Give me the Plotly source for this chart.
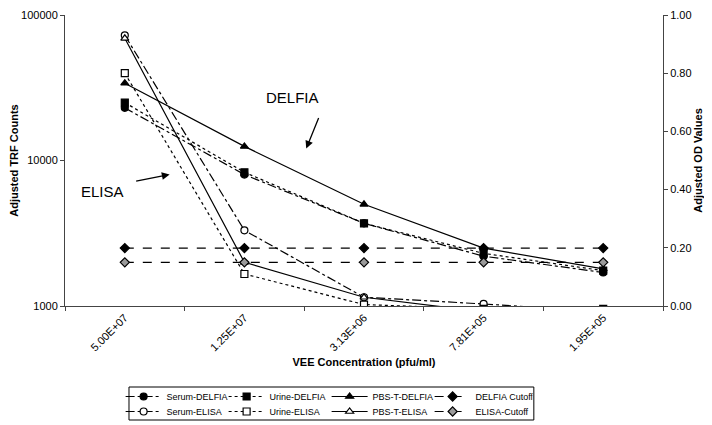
import plotly.graph_objects as go

categories = ["5.00E+07", "1.25E+07", "3.13E+06", "7.81E+05", "1.95E+05"]

serum_delfia = [23000, 8000, 3700, 2200, 1700]
urine_delfia = [25000, 8300, 3700, 2300, 1750]
pbst_delfia = [34000, 12500, 5000, 2500, 1800]
delfia_cutoff = [2500, 2500, 2500, 2500, 2500]

serum_elisa = [0.93, 0.26, 0.03, 0.007, -0.02]
urine_elisa = [0.80, 0.11, 0.005, -0.01, -0.01]
pbst_elisa = [0.92, 0.15, 0.03, -0.02, -0.03]
elisa_cutoff = [0.15, 0.15, 0.15, 0.15, 0.15]

FONT = "Liberation Sans, Arial, sans-serif"
BLACK = "#000000"

fig = go.Figure()

def add(name, y, dash, symbol, fill, yaxis, legend):
    fig.add_trace(go.Scatter(
        x=categories, y=y, name=name, mode="lines+markers",
        yaxis=yaxis, legend=legend,
        line=dict(color=BLACK, width=1.2, dash=dash),
        marker=dict(symbol=symbol, size=7, color=fill,
                    line=dict(color=BLACK, width=1.2)),
    ))

add("Serum-DELFIA", serum_delfia, "dashdot", "circle", BLACK, "y", "legend")
add("Urine-DELFIA", urine_delfia, "dot", "square", BLACK, "y", "legend")
add("PBS-T-DELFIA", pbst_delfia, "solid", "triangle-up", BLACK, "y", "legend")
add("DELFIA Cutoff", delfia_cutoff, "dash", "diamond", BLACK, "y", "legend")
add("Serum-ELISA", serum_elisa, "dashdot", "circle", "white", "y2", "legend2")
add("Urine-ELISA", urine_elisa, "dot", "square", "white", "y2", "legend2")
add("PBS-T-ELISA", pbst_elisa, "solid", "triangle-up", "white", "y2", "legend2")
add("ELISA-Cutoff", elisa_cutoff, "dash", "diamond", "#9a9a9a", "y2", "legend2")

leg_common = dict(orientation="h", xanchor="left", yanchor="top",
                  font=dict(family=FONT, size=9, color=BLACK),
                  bgcolor="rgba(0,0,0,0)", borderwidth=0,
                  entrywidth=52, entrywidthmode="pixels",
                  itemwidth=36, tracegroupgap=0)

# plot area: 291 px tall (page y 15..306)
H = 291.0
def py(page_y):
    return (306 - page_y) / H

fig.update_layout(
    width=704, height=417,
    margin=dict(l=57, r=49, t=7, b=119, autoexpand=False),
    paper_bgcolor="white", plot_bgcolor="white",
    font=dict(family=FONT, size=11, color=BLACK),
    legend=dict(x=0.093, y=py(382), **leg_common),
    legend2=dict(x=0.093, y=py(397), **leg_common),
    xaxis=dict(
        type="category", range=[-0.5, 4.5],
        tickson="boundaries", ticks="outside", ticklen=4,
        tickcolor="#444", showline=True, linecolor="#444", linewidth=1,
        tickangle=-45, showgrid=False, ticklabeloverflow="allow",
        tickfont=dict(family=FONT, size=11, color=BLACK),
        title=dict(text="<b>VEE Concentration (pfu/ml)</b>", standoff=5,
                   font=dict(family=FONT, size=11, color=BLACK)),
    ),
    yaxis=dict(
        type="log", range=[3, 5],
        tickvals=[1000, 10000, 100000], ticktext=["1000", "10000", "100000"],
        ticks="outside", ticklen=4, tickcolor="#444",
        showline=True, linecolor="#444", linewidth=1, showgrid=False,
        zeroline=False, ticklabeloverflow="allow",
        tickfont=dict(family=FONT, size=11, color=BLACK),
        title=dict(text="<b>Adjusted TRF Counts</b>", standoff=2,
                   font=dict(family=FONT, size=11, color=BLACK)),
    ),
    yaxis2=dict(
        overlaying="y", side="right", range=[0, 1], dtick=0.2,
        tickformat=".2f", ticks="outside", ticklen=4, tickcolor="#444",
        showline=True, linecolor="#444", linewidth=1, showgrid=False,
        zeroline=False, ticklabeloverflow="allow",
        tickfont=dict(family=FONT, size=11, color=BLACK),
        title=dict(text="<b>Adjusted OD Values</b>", standoff=3,
                   font=dict(family=FONT, size=11, color=BLACK)),
    ),
)

# legend frame
fig.add_shape(type="rect", xref="paper", yref="paper",
              x0=0.107, x1=0.784, y0=py(420), y1=py(387),
              line=dict(color=BLACK, width=1), fillcolor="rgba(0,0,0,0)")

# text labels
fig.add_annotation(x=1.4, y=0.718, xref="x", yref="y2", text="DELFIA",
                   showarrow=False, font=dict(family=FONT, size=15, color=BLACK))
fig.add_annotation(x=-0.19, y=0.395, xref="x", yref="y2", text="ELISA",
                   showarrow=False, font=dict(family=FONT, size=15, color=BLACK))
# arrows
fig.add_annotation(x=1.517, y=0.541, xref="x", yref="y2", text="",
                   showarrow=True, arrowhead=2, arrowsize=1.2, arrowwidth=1.3,
                   arrowcolor=BLACK, ax=13, ay=-32)
fig.add_annotation(x=0.375, y=0.452, xref="x", yref="y2", text="",
                   showarrow=True, arrowhead=2, arrowsize=1.2, arrowwidth=1.3,
                   arrowcolor=BLACK, ax=-35, ay=7)

fig.write_html("out.html")
